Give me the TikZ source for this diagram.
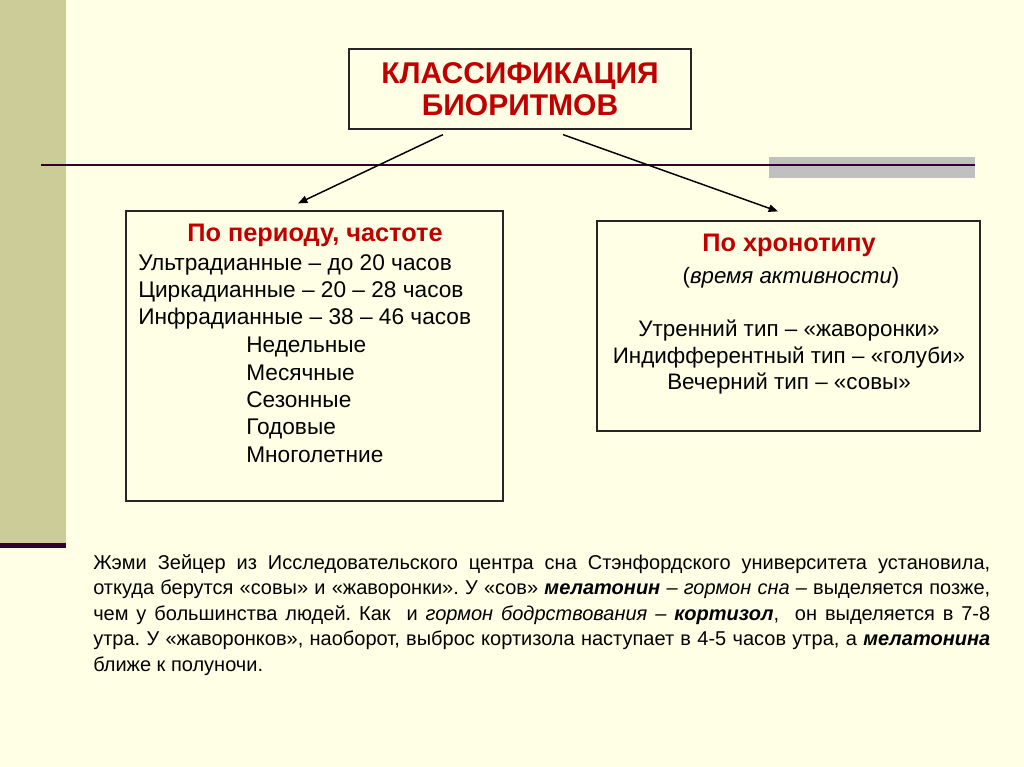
\documentclass[tikz,border=0pt]{standalone}
\usepackage{fontspec}
\setmainfont{Liberation Sans}
\usetikzlibrary{arrows.meta, positioning, calc}
\definecolor{bgcream}{HTML}{FFFFE6}
\definecolor{stripolive}{HTML}{CCCC99}
\definecolor{rulepurple}{HTML}{330033}
\definecolor{barshade}{HTML}{C0C0C0}
\definecolor{headred}{HTML}{C00000}

\begin{document}
\begin{tikzpicture}[
  x=0.75pt, y=-0.75pt,
  every node/.style={inner sep=0pt},
  framebox/.style={rectangle, draw=black!85, line width=0.9pt},
  headtext/.style={font=\fontsize{19}{22}\selectfont\bfseries, text=headred, anchor=base},
  itemtext/.style={font=\fontsize{17}{20}\selectfont, anchor=base west},
  typetext/.style={font=\fontsize{16.8}{20}\selectfont, anchor=base},
  arr/.style={-{Triangle[length=7pt,width=5.5pt]}, line width=1.1pt},
]
% slide background
\fill[bgcream] (0,0) rectangle (1024,767);
\fill[stripolive] (0,0) rectangle (66,543);
\fill[rulepurple] (0,543) rectangle (66,548);
\fill[barshade] (769,157) rectangle (975,178);
\draw[rulepurple, line width=2.2pt] (41,165) -- (975,165);

% boxes
\node[framebox, minimum width=256.5pt, minimum height=60pt, align=center,
  font=\fontsize{22.5}{24}\selectfont\bfseries, text=headred] (title) at (520,89) {КЛАССИФИКАЦИЯ\\БИОРИТМОВ};
\node[framebox, minimum width=282.75pt, minimum height=217.5pt] (period) at (314.5,356) {};
\node[framebox, minimum width=287.25pt, minimum height=157.5pt] (chrono) at (788.5,326) {};

% left box
\node[headtext] (periodhead) at (315,241) {По периоду, частоте};
\foreach \txt [count=\i] in {Ультрадианные – до 20 часов, Циркадианные – 20 – 28 часов, Инфрадианные – 38 – 46 часов}
  \node[itemtext] (rng\i) at (138, 243+27.2*\i) {\txt};
\foreach \txt [count=\i] in {Недельные, Месячные, Сезонные, Годовые, Многолетние}
  \node[itemtext] (cyc\i) at (246, 325.5+27.3*\i) {\txt};

% right box
\node[headtext] (chronohead) at (789,251) {По хронотипу};
\node[typetext, font=\fontsize{16.7}{19}\selectfont] (activity) at (791,283) {(\textit{время активности})};
\foreach \txt [count=\i] in {Утренний тип – «жаворонки», Индифферентный тип – «голуби», Вечерний тип – «совы»}
  \node[typetext] (type\i) at (789, 310+26.6*\i) {\txt};

% arrows
\draw[arr] ($(title.south)+(-77,5)$) -- ($(period.north)+(-16.5,-7)$);
\draw[arr] ($(title.south)+(43,5)$) -- ($(chrono.north)+(-10.5,-9)$);

% note
\node[font=\fontsize{15}{19.1}\selectfont, text width=672.75pt, align=justify, anchor=north west] (note) at (93,551.2) {%
\noindent\frenchspacing\hyphenpenalty=10000\exhyphenpenalty=10000\strut
Жэми Зейцер из Исследовательского центра сна Стэнфордского университета установила,\linebreak
откуда берутся «совы» и «жаворонки». У «сов» \textbf{\textit{мелатонин}} \textit{– гормон сна –} выделяется позже,\linebreak
чем у большинства людей. Как~ и \textit{гормон бодрствования –} \textbf{\textit{кортизол}}, ~он выделяется в 7-8\linebreak
утра. У «жаворонков», наоборот, выброс кортизола наступает в 4-5 часов утра, а \textbf{\textit{мелатонина}}\linebreak
ближе к полуночи.};
\end{tikzpicture}
\end{document}
